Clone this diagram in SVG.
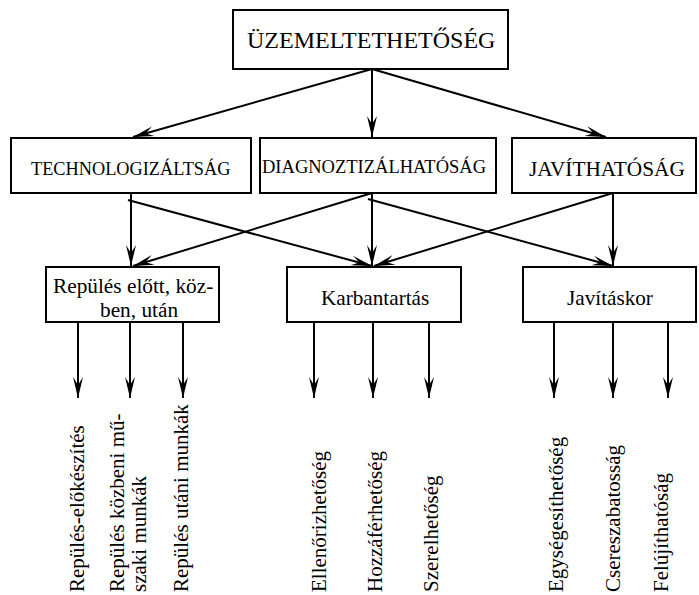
<svg xmlns="http://www.w3.org/2000/svg" width="699" height="595" viewBox="0 0 699 595" font-family="'Liberation Serif', 'DejaVu Serif', serif">
<defs>
<marker id="ah" markerUnits="userSpaceOnUse" markerWidth="24" markerHeight="12" viewBox="-23 -6 24 12" refX="0" refY="0" orient="auto">
<path d="M0,0 L-21,-5 L-13,0 L-21,5 Z" fill="#000"/>
</marker>
</defs>
<style>
.box{fill:#fff;stroke:#000;stroke-width:2}
.c{stroke:#000;stroke-width:2;fill:none;marker-end:url(#ah)}
.v{font-size:21px}
</style>
<rect width="699" height="595" fill="#fff"/>
<g id="connectors">
<line class="c" x1="372" y1="69" x2="133" y2="137"/>
<line class="c" x1="372" y1="69" x2="372" y2="137"/>
<line class="c" x1="372" y1="69" x2="606" y2="137"/>
<line class="c" x1="131" y1="193" x2="131" y2="266"/>
<line class="c" x1="128" y1="200" x2="372" y2="266"/>
<line class="c" x1="372" y1="193" x2="133" y2="266"/>
<line class="c" x1="372" y1="193" x2="372" y2="266"/>
<line class="c" x1="368" y1="199" x2="613" y2="266"/>
<line class="c" x1="613" y1="193" x2="374" y2="266"/>
<line class="c" x1="613" y1="193" x2="613" y2="266"/>
<line class="c" x1="78" y1="322" x2="78" y2="398"/>
<line class="c" x1="130" y1="322" x2="130" y2="398"/>
<line class="c" x1="183" y1="322" x2="183" y2="398"/>
<line class="c" x1="314" y1="322" x2="314" y2="398"/>
<line class="c" x1="373" y1="322" x2="373" y2="398"/>
<line class="c" x1="429" y1="322" x2="429" y2="398"/>
<line class="c" x1="554" y1="322" x2="554" y2="398"/>
<line class="c" x1="613" y1="322" x2="613" y2="398"/>
<line class="c" x1="668" y1="322" x2="668" y2="398"/>
</g>
<g id="n-uzem">
<rect class="box" x="233" y="10" width="275" height="59"/>
<text x="247" y="48" font-size="24">ÜZEMELTETHETŐSÉG</text>
</g>
<g id="n-tech">
<rect class="box" x="11" y="138" width="240" height="55"/>
<text x="31" y="175" font-size="18.3">TECHNOLOGIZÁLTSÁG</text>
</g>
<g id="n-diag">
<rect class="box" x="260" y="138" width="236" height="55"/>
<text x="262" y="173" font-size="18.5">DIAGNOZTIZÁLHATÓSÁG</text>
</g>
<g id="n-jav">
<rect class="box" x="512" y="138" width="184" height="55"/>
<text x="529" y="176" font-size="21.3">JAVÍTHATÓSÁG</text>
</g>
<g id="n-rep">
<rect class="box" x="46" y="267" width="173" height="55"/>
<text x="53" y="293" font-size="21.3">Repülés előtt, köz-</text>
<text x="100" y="317" font-size="21.3">ben, után</text>
</g>
<g id="n-karb">
<rect class="box" x="287" y="267" width="174" height="55"/>
<text x="321" y="305" font-size="21.2">Karbantartás</text>
</g>
<g id="n-javk">
<rect class="box" x="523" y="267" width="173" height="55"/>
<text x="567" y="305" font-size="21.2">Javításkor</text>
</g>
<g id="leaf-1"><text class="v" transform="translate(84,592) rotate(-90)">Repülés-előkészítés</text></g>
<g id="leaf-2"><text class="v" transform="translate(124,592) rotate(-90)">Repülés közbeni mű-</text><text class="v" transform="translate(146,592) rotate(-90)">szaki munkák</text></g>
<g id="leaf-3"><text class="v" transform="translate(188,592) rotate(-90)">Repülés utáni munkák</text></g>
<g id="leaf-4"><text class="v" transform="translate(326,592) rotate(-90)">Ellenőrizhetőség</text></g>
<g id="leaf-5"><text class="v" transform="translate(382,592) rotate(-90)">Hozzáférhetőség</text></g>
<g id="leaf-6"><text class="v" transform="translate(438,592) rotate(-90)">Szerelhetőség</text></g>
<g id="leaf-7"><text class="v" transform="translate(563,592) rotate(-90)">Egységesíthetőség</text></g>
<g id="leaf-8"><text class="v" transform="translate(620,592) rotate(-90)">Csereszabatosság</text></g>
<g id="leaf-9"><text class="v" transform="translate(668,592) rotate(-90)">Felújíthatóság</text></g>
</svg>
